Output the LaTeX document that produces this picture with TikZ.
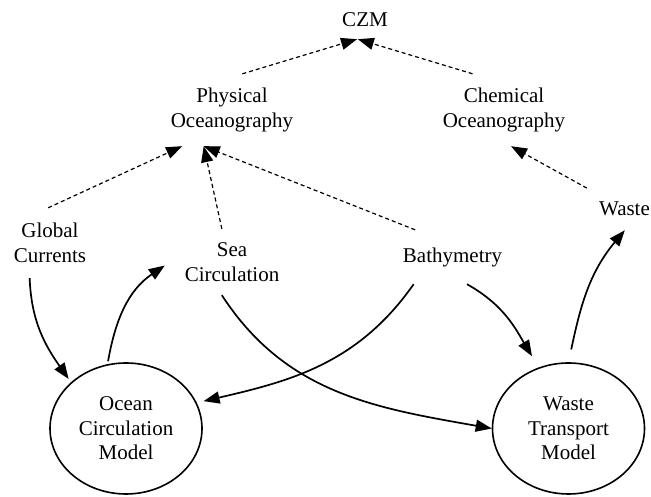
\documentclass[tikz,border=0pt]{standalone}
\usepackage{fontspec}
\setmainfont{Liberation Serif}
\usepackage{tikz}
\usetikzlibrary{shapes,arrows.meta}
\tikzstyle{lbl}=[font=\fontsize{21}{24.5}\selectfont,align=center,inner sep=0pt]
\tikzstyle{model}=[lbl,draw,ellipse,line width=1.6pt,minimum width=152pt,minimum height=131pt]
\tikzstyle{uses}=[line width=1.2pt,dash pattern=on 4pt off 3pt,-{Triangle[length=16pt,width=12pt]}]
\tikzstyle{flow}=[line width=1.7pt,-{Triangle[length=16pt,width=12pt]}]

\begin{document}
\begin{tikzpicture}[x=1pt,y=1pt]
    \useasboundingbox (0,0) rectangle (651,497);
    \node[lbl,minimum width=50pt,minimum height=39pt] (czm) at (365,477.5) {CZM};
    \node[lbl,minimum width=130pt,minimum height=72pt] (phys) at (232,387) {Physical\\Oceanography};
    \node[lbl,minimum width=130pt,minimum height=72pt] (chem) at (504,387) {Chemical\\Oceanography};
    \node[lbl,minimum width=90pt,minimum height=70pt] (global) at (50,254) {Global\\Currents};
    \node[lbl,minimum width=134pt,minimum height=66pt] (sea) at (232,235) {Sea\\Circulation};
    \node[lbl,minimum width=110pt,minimum height=54pt] (bathy) at (452.5,240) {Bathymetry};
    \node[lbl,minimum width=75pt,minimum height=42pt] (waste) at (624.5,288) {Waste};
    \node[model] (ocm) at (126,68.5) {Ocean\\Circulation\\Model};
    \node[model] (wtm) at (568.5,68.5) {Waste\\Transport\\Model};

    \draw[uses] (phys.74) -- (czm.248);
    \draw[uses] (chem.131) -- (czm.250);
    \draw[uses] (global.93) -- (phys.216);
    \draw[uses] (sea.107) -- (phys.232);
    \draw[uses] (bathy.144) -- (phys.232);
    \draw[uses] (waste.151) -- (chem.281);

    \draw[flow,shorten >=4pt] (global.240) to[out=-88,in=125] (ocm.140);
    \draw[flow,shorten <=3pt] (ocm.106) to[out=80,in=214] (sea.183);
    \draw[flow] (sea.253) to[out=-57,in=170] (wtm.180);
    \draw[flow,shorten >=7pt] (bathy.215) to[out=235,in=13] (ocm.20);
    \draw[flow,shorten >=13pt] (bathy.298) to[out=-29,in=121] (wtm.116);
    \draw[flow,shorten <=13pt] (wtm.90) to[out=78,in=230] (waste.271);
\end{tikzpicture}
\end{document}
